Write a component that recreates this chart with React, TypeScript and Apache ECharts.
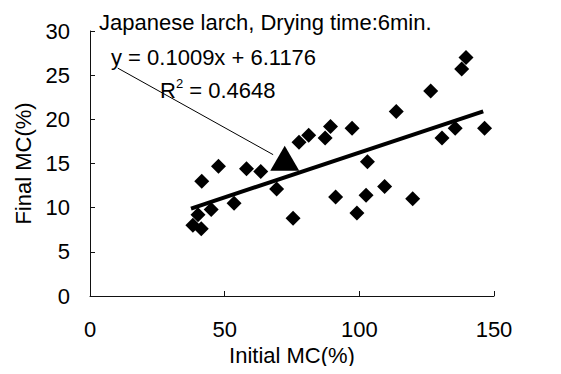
import React, { useEffect, useRef } from "react";
import * as echarts from "echarts";

const initialMC = [38.2, 40.1, 41.3, 41.5, 45.0, 47.7, 53.5, 58.1, 63.4, 69.3, 75.4, 77.6, 81.2, 87.3, 89.3, 91.2, 97.3, 99.1, 102.5, 103.0, 109.4, 113.7, 119.8, 126.5, 130.7, 135.6, 138.0, 139.6, 146.5];
const finalMC = [8.0, 9.2, 7.6, 13.0, 9.8, 14.7, 10.5, 14.4, 14.1, 12.1, 8.8, 17.4, 18.2, 17.9, 19.2, 11.2, 19.0, 9.4, 11.4, 15.2, 12.4, 20.9, 11.0, 23.2, 17.9, 19.0, 25.7, 27.0, 19.0];
const highlightX = [72.3];
const highlightY = [15.6];
const trendX = [37.5, 146.0];
const trendY = [9.9, 20.9];
const leaderX = [10.3, 68.0];
const leaderY = [25.8, 16.0];
const xTicks = [0, 50, 100, 150];
const yTicks = [0, 5, 10, 15, 20, 25, 30];
const titleText = "Japanese larch, Drying time:6min.";
const equationText = "y = 0.1009x + 6.1176";
const r2Value = "0.4648";

const FONT = "Arial, 'Liberation Sans', sans-serif";

export default function App() {
  const ref = useRef<HTMLDivElement>(null);
  useEffect(() => {
    if (!ref.current) return;
    const chart = echarts.init(ref.current, null, { renderer: "svg" });
    const axisCommon = {
      axisLine: { show: true, lineStyle: { color: "#111", width: 1 } },
      axisTick: { show: true, inside: true, length: 5, lineStyle: { color: "#111", width: 1 } },
      splitLine: { show: false },
      nameLocation: "middle" as const,
      nameTextStyle: { color: "#000", fontSize: 22, fontFamily: FONT },
      axisLabel: { color: "#000", fontSize: 22, fontFamily: FONT },
    };
    chart.setOption({
      animation: false,
      backgroundColor: "#fff",
      textStyle: { fontFamily: FONT },
      title: {
        text: titleText,
        left: 94,
        top: 6,
        textStyle: { fontSize: 22, fontWeight: "normal", color: "#000", fontFamily: FONT },
      },
      grid: { left: 90, right: 67, top: 31, bottom: 78, containLabel: false },
      xAxis: {
        type: "value",
        min: xTicks[0],
        max: xTicks[xTicks.length - 1],
        interval: xTicks[1] - xTicks[0],
        name: "Initial MC(%)",
        nameGap: 46,
        ...axisCommon,
        axisLabel: { ...axisCommon.axisLabel, margin: 22 },
      },
      yAxis: {
        type: "value",
        min: yTicks[0],
        max: yTicks[yTicks.length - 1],
        interval: yTicks[1] - yTicks[0],
        name: "Final MC(%)",
        nameGap: 52,
        ...axisCommon,
        axisLabel: { ...axisCommon.axisLabel, margin: 20 },
      },
      series: [
        {
          type: "line",
          data: leaderX.map((x, i) => [x, leaderY[i]]),
          symbol: "none",
          lineStyle: { color: "#000", width: 1 },
          z: 1,
        },
        {
          type: "line",
          data: trendX.map((x, i) => [x, trendY[i]]),
          symbol: "none",
          lineStyle: { color: "#000", width: 4 },
          z: 2,
        },
        {
          type: "scatter",
          data: initialMC.map((x, i) => [x, finalMC[i]]),
          symbol: "diamond",
          symbolSize: [15, 15],
          itemStyle: { color: "#000", opacity: 1 },
          z: 3,
        },
        {
          type: "scatter",
          data: highlightX.map((x, i) => [x, highlightY[i]]),
          symbol: "triangle",
          symbolSize: [29, 25],
          itemStyle: { color: "#000", opacity: 1 },
          z: 4,
        },
      ],
      graphic: [
        {
          type: "text",
          left: 111,
          top: 46,
          style: { text: equationText, fontSize: 22, fontFamily: FONT, fill: "#000" },
        },
        {
          type: "text",
          left: 160,
          top: 77,
          style: {
            text: "{a|R}{s|2}{a| = " + r2Value + "}",
            fontFamily: FONT,
            fill: "#000",
            rich: {
              a: { fontSize: 22, fontFamily: FONT, fill: "#000", lineHeight: 26 },
              s: { fontSize: 13, fontFamily: FONT, fill: "#000", verticalAlign: "top", lineHeight: 14 },
            },
          },
        },
      ],
    });
    return () => chart.dispose();
  }, []);
  return <div ref={ref} style={{ width: 561, height: 374, margin: -8 }} />;
}
